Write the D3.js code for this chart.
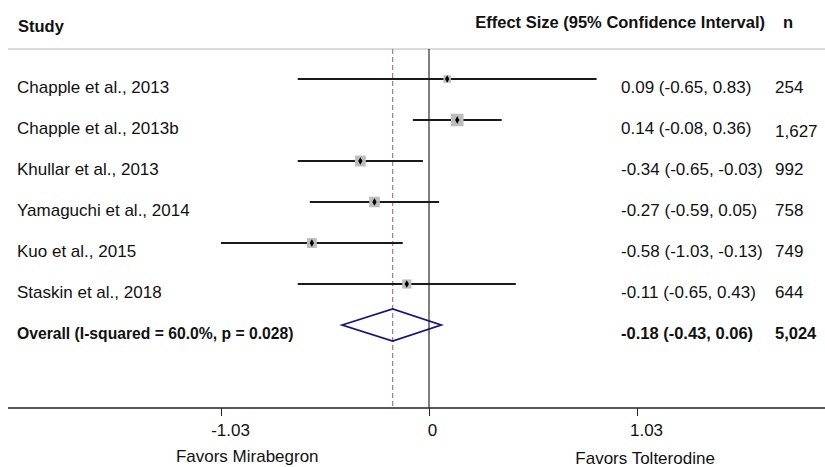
<!DOCTYPE html>
<html>
<head>
<meta charset="utf-8">
<script src="https://cdn.jsdelivr.net/npm/d3@7"></script>
<style>
  html, body { margin: 0; padding: 0; background: #fff; }
  svg { display: block; font-family: "Liberation Sans", Arial, Helvetica, sans-serif; }
</style>
</head>
<body>
<svg id="chart" width="825" height="467"></svg>
<script>
// ---- data ----
const studies = ["Chapple et al., 2013", "Chapple et al., 2013b", "Khullar et al., 2013",
                 "Yamaguchi et al., 2014", "Kuo et al., 2015", "Staskin et al., 2018"];
const effects = [0.09, 0.14, -0.34, -0.27, -0.58, -0.11];
const lowerCI = [-0.65, -0.08, -0.65, -0.59, -1.03, -0.65];
const upperCI = [0.83, 0.36, -0.03, 0.05, -0.13, 0.43];
const sampleN = ["254", "1,627", "992", "758", "749", "644"];
const weights = [9.0, 25.0, 19.0, 18.0, 15.5, 13.5];
const overallLabel = "Overall (I-squared = 60.0%, p = 0.028)";
const overallEffect = -0.18;
const overallLower = -0.43;
const overallUpper = 0.06;
const overallN = "5,024";
const tickValues = [-1.03, 0, 1.03];
const tickLabels = ["-1.03", "0", "1.03"];
const leftNote = "Favors Mirabegron";
const rightNote = "Favors Tolterodine";

// ---- layout ----
const svg = d3.select("#chart");
const x = d3.scaleLinear().domain([-1.03, 1.03]).range([221, 637]);
const rowIdx = d3.range(studies.length + 1);
const y = d3.scalePoint().domain(rowIdx).range([79, 325]);
const boxSize = d3.scaleSqrt().domain([0, 25]).range([0, 12.5]);
const fmt = v => v.toFixed(2);
const topY = 49, axisY = 408, leftX = 8, rightX = 825;
const labelX = 17, esX = 621, nX = 775;

// header
svg.append("text").attr("x", 18).attr("y", 32)
  .attr("font-size", 16.5).attr("font-weight", "bold").attr("fill", "#111").text("Study");
svg.append("text").attr("x", 765).attr("y", 28).attr("text-anchor", "end")
  .attr("font-size", 16.5).attr("font-weight", "bold").attr("fill", "#111")
  .text("Effect Size (95% Confidence Interval)");
svg.append("text").attr("x", 783).attr("y", 28)
  .attr("font-size", 16.5).attr("font-weight", "bold").attr("fill", "#111").text("n");

// top rule
svg.append("line").attr("x1", leftX).attr("x2", rightX).attr("y1", topY).attr("y2", topY)
  .attr("stroke", "#dadada").attr("stroke-width", 2);

// zero line
svg.append("line").attr("x1", x(0)).attr("x2", x(0)).attr("y1", topY).attr("y2", axisY)
  .attr("stroke", "#000").attr("stroke-width", 1);

// overall dashed line
svg.append("line").attr("x1", x(overallEffect)).attr("x2", x(overallEffect))
  .attr("y1", topY).attr("y2", axisY)
  .attr("stroke", "#b8727f").attr("stroke-width", 1.2).attr("stroke-dasharray", "5,3");

const rows = studies.map((s, i) => ({
  s, es: effects[i], lo: lowerCI[i], hi: upperCI[i], n: sampleN[i], w: weights[i], i
}));

// CI lines
svg.append("g").selectAll("line").data(rows).join("line")
  .attr("x1", d => x(d.lo)).attr("x2", d => x(d.hi))
  .attr("y1", d => y(d.i)).attr("y2", d => y(d.i))
  .attr("stroke", "#1a1a1a").attr("stroke-width", 2);

// weight boxes
svg.append("g").selectAll("rect").data(rows).join("rect")
  .attr("x", d => x(d.es) - boxSize(d.w) / 2)
  .attr("y", d => y(d.i) - boxSize(d.w) / 2)
  .attr("width", d => boxSize(d.w)).attr("height", d => boxSize(d.w))
  .attr("fill", "#bdbdbd");

// point markers
svg.append("g").selectAll("path").data(rows).join("path")
  .attr("d", d3.symbol(d3.symbolDiamond, 16))
  .attr("transform", d => `translate(${x(d.es)},${y(d.i)})`)
  .attr("fill", "#000");

// text columns
svg.append("g").selectAll("text").data(rows).join("text")
  .attr("x", labelX).attr("y", d => y(d.i) + 14)
  .attr("font-size", 17).attr("fill", "#111").text(d => d.s);
svg.append("g").selectAll("text").data(rows).join("text")
  .attr("x", esX).attr("y", d => y(d.i) + 14)
  .attr("font-size", 17).attr("fill", "#111")
  .text(d => `${fmt(d.es)} (${fmt(d.lo)}, ${fmt(d.hi)})`);
svg.append("g").selectAll("text").data(rows).join("text")
  .attr("x", nX).attr("y", d => y(d.i) + (d.n.length > 4 ? 17 : 14))
  .attr("font-size", 17).attr("fill", "#111").text(d => d.n);

// overall row
const oy = y(studies.length);
const dh = 16;
svg.append("path")
  .attr("d", `M${x(overallLower)},${oy} L${x(overallEffect)},${oy - dh} L${x(overallUpper)},${oy} L${x(overallEffect)},${oy + dh} Z`)
  .attr("fill", "none").attr("stroke", "#16167a").attr("stroke-width", 1.8);
svg.append("text").attr("x", labelX).attr("y", oy + 14)
  .attr("font-size", 15.7).attr("font-weight", "bold").attr("fill", "#111").text(overallLabel);
svg.append("text").attr("x", esX).attr("y", oy + 14)
  .attr("font-size", 16.5).attr("font-weight", "bold").attr("fill", "#111")
  .text(`${fmt(overallEffect)} (${fmt(overallLower)}, ${fmt(overallUpper)})`);
svg.append("text").attr("x", nX).attr("y", oy + 14)
  .attr("font-size", 16.5).attr("font-weight", "bold").attr("fill", "#111").text(overallN);

// bottom axis
svg.append("line").attr("x1", leftX).attr("x2", rightX).attr("y1", axisY).attr("y2", axisY)
  .attr("stroke", "#222").attr("stroke-width", 1.5);
const axis = d3.axisBottom(x).tickValues(tickValues).tickSize(8).tickPadding(8)
  .tickFormat((d, i) => tickLabels[i]);
const ag = svg.append("g").attr("transform", `translate(0,${axisY})`).call(axis);
ag.select(".domain").remove();
ag.selectAll(".tick line").attr("stroke", "#222");
ag.selectAll(".tick text")
  .attr("font-size", 17).attr("fill", "#111")
  .attr("font-family", "'Liberation Sans', Arial, sans-serif")
  .attr("dx", d => d === 0 ? 3 : 9);

svg.append("text").attr("x", x(-0.9)).attr("y", 462).attr("text-anchor", "middle")
  .attr("font-size", 17).attr("fill", "#111").text(leftNote);
svg.append("text").attr("x", x(1.07)).attr("y", 464).attr("text-anchor", "middle")
  .attr("font-size", 17).attr("fill", "#111").text(rightNote);
</script>
</body>
</html>
